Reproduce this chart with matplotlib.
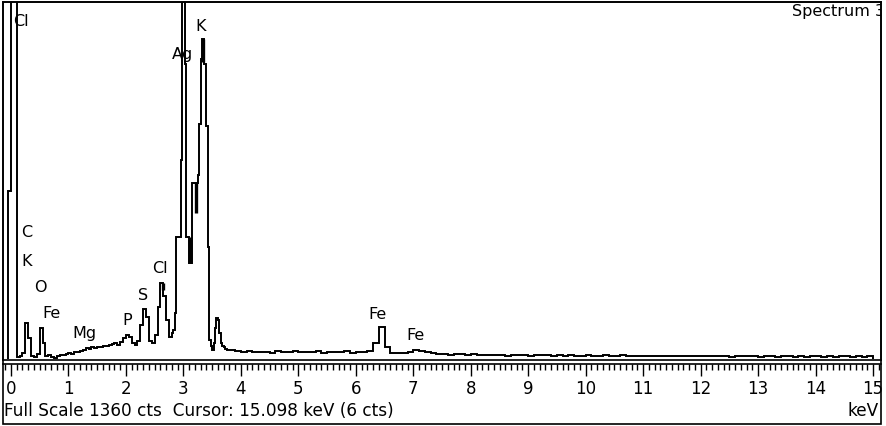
import numpy as np
import matplotlib
matplotlib.use("Agg")
import matplotlib.pyplot as plt
from matplotlib.patches import Rectangle
from matplotlib.ticker import MultipleLocator

plt.rcParams['font.family'] = ['DejaVu Sans']

# counts per channel, three blocks of different channel width
# -0.05 .. 2.80 keV, 0.05 keV bins
counts_low = [640, 6000, 6000, 8, 10, 22, 137, 80, 12, 8,
              18, 118, 60, 10, 15, 8, 4, 10, 14, 16,
              18, 22, 20, 26, 28, 32, 36, 42, 38, 44,
              42, 46, 44, 48, 50, 52, 56, 60, 54, 66,
              80, 92, 84, 62, 53, 70, 130, 190, 160, 70,
              62, 90, 199, 290, 240, 150, 84]
# 2.80 .. 3.80 keV, 0.025 keV bins
counts_mid = [100, 110, 175, 466, 466, 466, 760, 6000, 6000, 1123,
              466, 466, 367, 367, 672, 672, 672, 672, 700, 894,
              1142, 1219, 1123, 1123, 886, 428, 73, 50, 34, 60,
              120, 157, 150, 100, 60, 50, 45, 40, 36, 34]
# 3.80 .. 15.0 keV, 0.1 keV bins
counts_high = [34, 30,
               28, 30, 25, 28, 27, 24, 30, 26, 27, 31,
               25, 28, 26, 30, 24, 27, 26, 25, 32, 24,
               27, 25, 30, 60, 122, 45, 24, 22, 23, 26,
               34, 32, 25, 22, 18, 20, 17, 19, 18, 16,
               18, 15, 17, 16, 15, 14, 12, 15, 14, 16,
               13, 15, 16, 14, 13, 15, 12, 14, 13, 12,
               14, 13, 12, 14, 12, 13, 15, 12, 11, 13,
               12, 11, 13, 12, 10, 12, 11, 13, 10, 11,
               12, 10, 11, 12, 10, 9, 11, 10, 12, 10,
               9, 10, 11, 9, 12, 10, 9, 10, 9, 11,
               10, 9, 10, 9, 10, 11, 9, 10, 9, 10]

# element labels
label_text = ['Cl', 'Ag', 'K', 'C', 'K', 'O', 'Fe', 'Mg', 'P', 'S', 'Cl', 'Fe', 'Fe']
label_kev = [0.17, 2.98, 3.30, 0.27, 0.27, 0.52, 0.71, 1.28, 2.02, 2.29, 2.60, 6.38, 7.03]
label_cts = [1287, 1161, 1266, 483, 372, 273, 172, 99, 145, 241, 344, 168, 88]

# marker bars drawn on peaks
marker_kev = [2.64, 3.11, 3.22, 3.34]
marker_lo = [263, 367, 558, 1130]
marker_hi = [290, 466, 672, 1219]

edges = np.concatenate([np.linspace(-0.05, 2.8, 58),
                        np.linspace(2.8, 3.8, 41)[1:],
                        np.linspace(3.8, 15.0, 113)[1:]])
counts = np.array(counts_low + counts_mid + counts_high, dtype=float)

W, H = 886, 426
fig = plt.figure(figsize=(W / 100, H / 100), dpi=100)
ax = fig.add_axes([3 / W, 1 - 360 / H, 878 / W, 358 / H])

ax.stairs(counts, edges, baseline=0, color='black', lw=1.4)
ax.vlines(marker_kev, marker_lo, marker_hi, color='black', lw=2.4)

for t, e, c in zip(label_text, label_kev, label_cts):
    ax.text(e, c, t, ha='center', va='center', fontsize=11.5)

ax.text(15.2, 1322, 'Spectrum 3', ha='right', va='center', fontsize=11.5, clip_on=True)

ax.set_xlim(-0.139, 15.138)
ax.set_ylim(-3.8, 1360)
ax.set_yticks([])
ax.xaxis.set_major_locator(MultipleLocator(1))
ax.xaxis.set_minor_locator(MultipleLocator(0.1))
ax.tick_params(axis='x', which='major', direction='out', length=8.5, width=1, pad=3, labelsize=12)
ax.tick_params(axis='x', which='minor', direction='out', length=4.3, width=1)
for s in ['top', 'left', 'right']:
    ax.spines[s].set_linewidth(1.2)
ax.spines['bottom'].set_position(('outward', 3))
ax.spines['bottom'].set_linewidth(1.2)
ax.axhline(-3.8, color='black', lw=1.2, clip_on=False)

fig.patches.append(Rectangle((3 / W, 1 - 424 / H), 878 / W, 422 / H, transform=fig.transFigure,
                             fill=False, edgecolor='black', lw=1.2))
fig.text(3.5 / W, 1 - 411 / H, 'Full Scale 1360 cts  Cursor: 15.098 keV (6 cts)',
         ha='left', va='center', fontsize=12.2)
fig.text(879 / W, 1 - 411 / H, 'keV', ha='right', va='center', fontsize=12.2)

fig.savefig('out.png', dpi=100)
